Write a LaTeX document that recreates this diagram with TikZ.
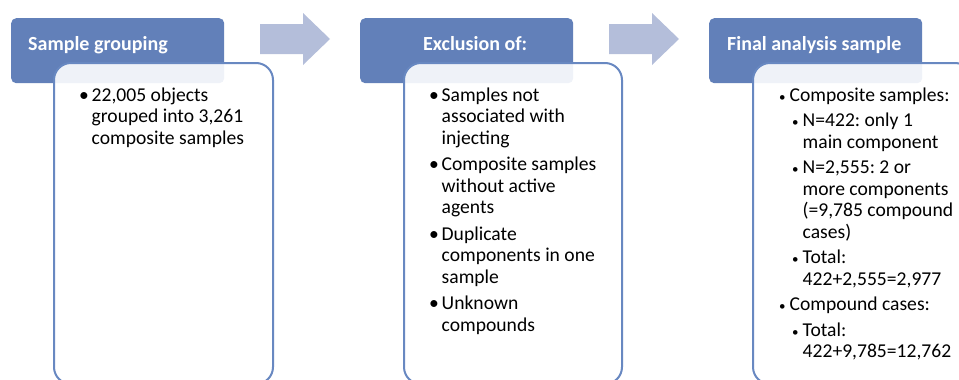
\documentclass[tikz,border=0pt]{standalone}
\usepackage{fontspec}
\setmainfont{Carlito}
\frenchspacing
\usetikzlibrary{positioning}
\definecolor{hdrblue}{RGB}{98,128,185}
\definecolor{arrowblue}{RGB}{180,190,218}
\definecolor{lineblue}{RGB}{104,136,193}

\newcommand{\bul}{\makebox[12.5pt][l]{\textbullet}}
\newcommand{\ind}{\hspace*{12.5pt}}
\newcommand{\subbul}{\makebox[10.5pt][l]{\fontsize{13}{13}\selectfont\textbullet}}
\newcommand{\subind}{\hspace*{10.5pt}}

\begin{document}
\begin{tikzpicture}[x=1pt, y=-1pt,
      hdr/.style={fill=hdrblue, rounded corners=5pt, minimum width=213pt,
                  minimum height=65pt, anchor=north west, inner sep=0pt},
      hdrtext/.style={text=white, font=\fontsize{20}{24}\selectfont\bfseries,
                      anchor=base west, inner sep=0pt},
      body/.style={draw=lineblue, line width=2pt, fill=white, fill opacity=0.9,
                   rounded corners=17pt, minimum width=219pt, minimum height=321pt,
                   anchor=north west, inner sep=0pt},
      items/.style={font=\fontsize{19.6}{21.5}\selectfont, align=left,
                    anchor=north west, inner sep=0pt},
      blockarrow/.style={fill=arrowblue}
    ]
    \useasboundingbox (0,0) rectangle (959,380);
    \clip (0,0) rectangle (959,380);

    % step headers
    \node[hdr] (hdr1) at (11,18) {};
    \node[hdr] (hdr2) at (360,18) {};
    \node[hdr] (hdr3) at (709,18) {};
    \node[hdrtext] (lbl1) at (28,50) {Sample grouping};
    \node[hdrtext] (lbl2) at (423,50) {Exclusion of:};
    \node[hdrtext] (lbl3) at (727,50) {Final analysis sample};

    % arrows between the steps
    \foreach \ax in {260,609}
      \fill[blockarrow] (\ax,24) -- (\ax+43,24) -- (\ax+43,13) -- (\ax+70,39)
        -- (\ax+43,65) -- (\ax+43,54) -- (\ax,54) -- cycle;

    % text boxes
    \node[body] (body1) at (53,62) {};
    \node[body, minimum width=218pt] (body2) at (403,62) {};
    \node[body] (body3) at (752,62) {};

    \node[items] (list1) at (79,86) {\strut\bul 22,005 objects\\
      \ind grouped into 3,261\\
      \ind composite samples};

    \node[items] (list2) at (429,86) {\strut\bul Samples not\\
      \ind associated with\\
      \ind injecting\\[5pt]
      \bul Composite samples\\
      \ind without active\\
      \ind agents\\[5pt]
      \bul Duplicate\\
      \ind components in one\\
      \ind sample\\[5pt]
      \bul Unknown\\
      \ind compounds};

    \node[items] (list3) at (779,86) {\strut\subbul Composite samples:\\[4pt]
      \hspace*{13pt}\subbul N=422: only 1\\
      \hspace*{13pt}\subind main component\\[4pt]
      \hspace*{13pt}\subbul N=2,555: 2 or\\
      \hspace*{13pt}\subind more components\\
      \hspace*{13pt}\subind (=9,785 compound\\
      \hspace*{13pt}\subind cases)\\[4pt]
      \hspace*{13pt}\subbul Total:\\
      \hspace*{13pt}\subind 422+2,555=2,977\\[4pt]
      \subbul Compound cases:\\[4pt]
      \hspace*{13pt}\subbul Total:\\
      \hspace*{13pt}\subind 422+9,785=12,762};
  \end{tikzpicture}
\end{document}
